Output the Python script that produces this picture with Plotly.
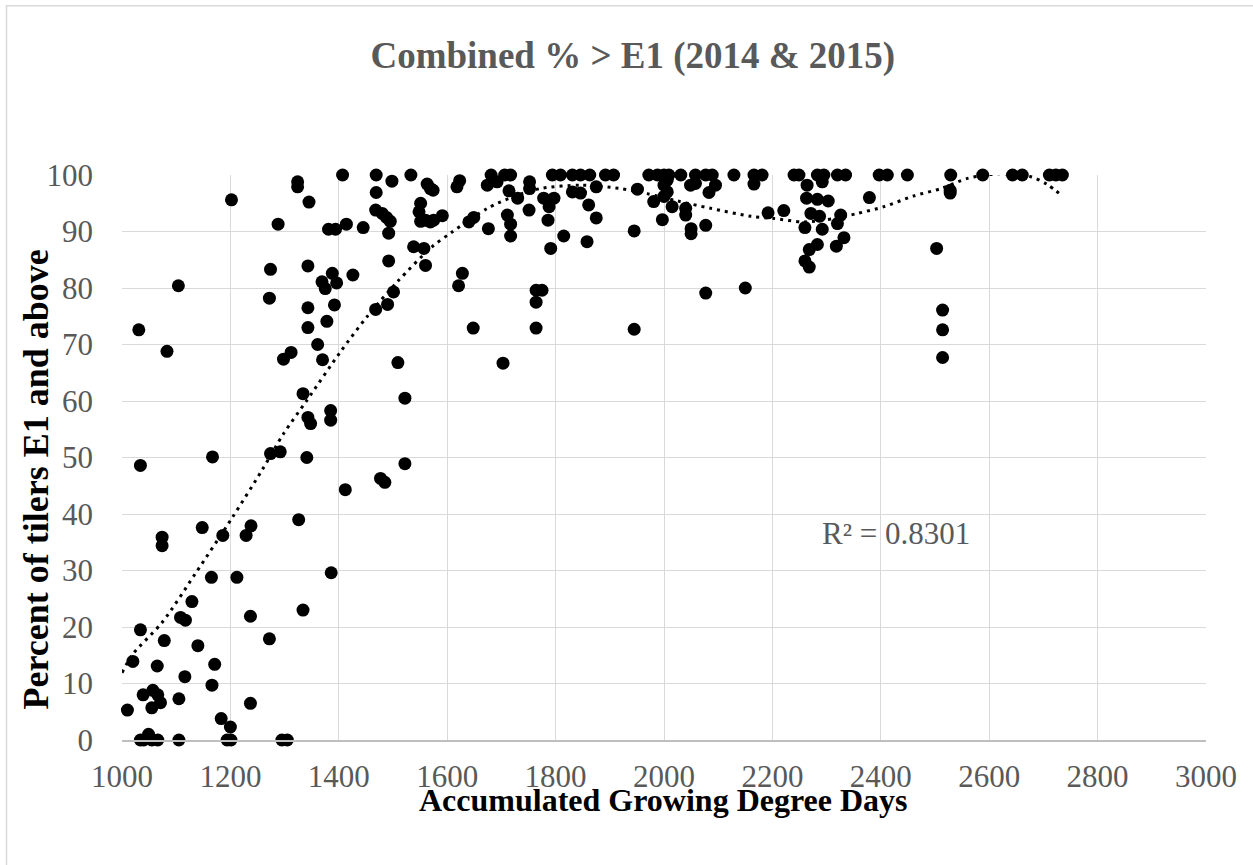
import plotly.graph_objects as go

# Accumulated growing degree days for each sampled plot
gdd = [
    1010, 1020, 1031, 1034, 1034, 1034, 1039, 1040, 1049, 1055, 1055, 1057, 1065, 1066, 1066,
    1071, 1074, 1074, 1078, 1083, 1104, 1105, 1105, 1108, 1116, 1117, 1129, 1140, 1148, 1165,
    1166, 1167, 1171, 1183, 1186, 1194, 1200, 1201, 1202, 1212, 1229, 1237, 1237, 1238, 1272,
    1272, 1274, 1274, 1288, 1292, 1295, 1298, 1305, 1312, 1324, 1324, 1326, 1334, 1334, 1341,
    1343, 1343, 1343, 1343, 1345, 1348, 1361, 1369, 1370, 1375, 1378, 1381, 1385, 1385, 1386,
    1388, 1392, 1394, 1396, 1407, 1412, 1414, 1426, 1445, 1468, 1468, 1469, 1469, 1477, 1480,
    1485, 1488, 1490, 1492, 1492, 1495, 1498, 1501, 1509, 1522, 1522, 1533, 1538, 1548, 1551,
    1551, 1557, 1560, 1560, 1563, 1569, 1569, 1574, 1575, 1591, 1618, 1621, 1623, 1628, 1640,
    1648, 1649, 1674, 1676, 1681, 1692, 1703, 1706, 1711, 1714, 1717, 1717, 1717, 1730, 1751,
    1752, 1752, 1764, 1764, 1764, 1775, 1778, 1786, 1788, 1791, 1794, 1797, 1809, 1815, 1831,
    1831, 1846, 1846, 1858, 1861, 1863, 1875, 1875, 1892, 1907, 1945, 1945, 1951, 1972, 1981,
    1988, 1997, 2000, 2000, 2000, 2006, 2006, 2009, 2015, 2031, 2040, 2040, 2049, 2050, 2050,
    2058, 2058, 2077, 2077, 2077, 2083, 2089, 2095, 2129, 2150, 2166, 2166, 2181, 2192, 2221,
    2240, 2249, 2260, 2260, 2263, 2264, 2268, 2268, 2271, 2283, 2283, 2283, 2287, 2292, 2292,
    2295, 2303, 2318, 2320, 2320, 2326, 2332, 2335, 2379, 2397, 2412, 2449, 2503, 2514, 2514,
    2514, 2528, 2528, 2529, 2588, 2643, 2661, 2711, 2723, 2735,
]

# Percent of tillers at E1 and above for the same plots
pct_e1 = [
    5.3, 13.9, 72.6, 48.6, 19.5, 0.0, 8.0, 0.0, 1.0, 0.0, 5.7, 8.8, 13.1, 8.0, 0.0,
    6.6, 35.9, 34.4, 17.6, 68.8, 80.4, 7.3, 0.0, 21.7, 11.2, 21.2, 24.5, 16.7, 37.6, 28.8,
    9.7, 50.1, 13.4, 3.8, 36.2, 0.0, 2.3, 0.0, 95.6, 28.8, 36.2, 21.9, 6.5, 37.9, 17.9,
    78.2, 83.3, 50.7, 91.3, 51.0, 0.0, 67.4, 0.0, 68.6, 98.8, 97.9, 39.0, 61.3, 23.0, 50.0,
    83.9, 76.5, 73.0, 57.1, 95.2, 56.0, 70.0, 81.1, 67.3, 79.9, 74.1, 90.4, 58.3, 56.6, 29.6,
    82.6, 77.0, 90.4, 80.9, 100.0, 44.3, 91.3, 82.3, 90.7, 93.8, 76.2, 100.0, 96.9, 46.3, 93.2,
    45.6, 92.5, 77.1, 89.7, 84.8, 91.8, 98.9, 79.3, 66.8, 60.5, 48.9, 100.0, 87.3, 93.5, 95.0,
    91.8, 87.0, 92.0, 84.0, 98.4, 97.6, 91.7, 97.3, 92.0, 92.8, 97.9, 80.4, 99.0, 82.6, 91.7,
    72.9, 92.5, 98.2, 90.5, 100.0, 98.8, 66.7, 100.0, 92.9, 97.2, 100.0, 91.3, 89.2, 95.9, 93.8,
    98.8, 97.6, 79.6, 77.5, 72.9, 79.6, 95.9, 92.0, 94.4, 87.0, 100.0, 95.9, 100.0, 89.2, 100.0,
    97.0, 100.0, 96.8, 88.2, 94.7, 100.0, 97.9, 92.4, 100.0, 100.0, 90.1, 72.7, 97.5, 100.0, 95.3,
    100.0, 92.1, 100.0, 96.2, 98.2, 97.0, 99.1, 100.0, 94.4, 100.0, 94.1, 92.9, 98.2, 90.5, 89.6,
    100.0, 98.5, 100.0, 91.1, 79.1, 96.9, 100.0, 98.2, 100.0, 80.0, 100.0, 98.4, 100.0, 93.3, 93.7,
    100.0, 100.0, 90.7, 84.8, 95.9, 98.2, 86.8, 83.7, 93.2, 100.0, 95.7, 87.7, 92.7, 98.8, 90.4,
    100.0, 95.4, 87.4, 100.0, 91.4, 92.9, 88.9, 100.0, 96.0, 100.0, 100.0, 100.0, 87.0, 76.1, 72.6,
    67.7, 97.3, 96.8, 100.0, 100.0, 100.0, 100.0, 100.0, 100.0, 100.0,
]

# Polynomial trendline (R² = 0.8301), sampled along its course
trend_x = [1000, 1020, 1074, 1135, 1203, 1258, 1298, 1341, 1403, 1452, 1508, 1572, 1609,
           1674, 1723, 1772, 1846, 1920, 1969, 2025, 2086, 2160, 2203, 2258, 2314, 2357,
           2406, 2461, 2511, 2560, 2615, 2677, 2706, 2735]
trend_y = [11.9, 15.2, 20.8, 29.4, 39.3, 47.7, 54.2, 60.1, 68.7, 74.9, 81.1, 87.3, 89.9,
           94.1, 96.2, 97.6, 98.2, 97.6, 96.7, 95.4, 94.1, 92.7, 92.3, 91.7, 92.3, 93.2,
           94.4, 96.3, 97.6, 99.4, 100.2, 99.7, 98.4, 96.3]

x_ticks = list(range(1000, 3001, 200))
y_ticks = list(range(0, 101, 10))

TITLE = "Combined % > E1 (2014 & 2015)"
X_TITLE = "Accumulated Growing Degree Days"
Y_TITLE = "Percent of tilers E1 and above"
R2_LABEL = "R² = 0.8301"

FONT = "Liberation Serif, Times New Roman, serif"
GREY_TEXT = "#595959"
GRID = "#d9d9d9"

fig = go.Figure()

fig.add_trace(go.Scatter(
    x=trend_x, y=trend_y, mode="lines",
    line=dict(color="black", width=3, dash="3px,5px", shape="spline", smoothing=0.8),
    hoverinfo="skip", showlegend=False, cliponaxis=False,
))

fig.add_trace(go.Scatter(
    x=gdd, y=pct_e1, mode="markers",
    marker=dict(color="black", size=13, line=dict(width=0)),
    showlegend=False, cliponaxis=False,
))

fig.update_layout(
    width=1253, height=865,
    margin=dict(l=122, r=47, t=175, b=125),
    paper_bgcolor="white", plot_bgcolor="white",
    font=dict(family=FONT, color=GREY_TEXT, size=31),
    title=dict(
        text=f"<b>{TITLE}</b>", x=0.505, xanchor="center",
        y=1 - 55 / 865, yanchor="middle",
        font=dict(family=FONT, size=37, color=GREY_TEXT),
    ),
    xaxis=dict(
        range=[1000, 3000], tickvals=x_ticks, ticktext=[str(v) for v in x_ticks],
        showgrid=True, gridcolor=GRID, gridwidth=1.3,
        showline=True, linecolor="#bfbfbf", linewidth=1.5,
        zeroline=False, ticks="", ticklabelstandoff=8,
        tickfont=dict(family=FONT, size=31, color=GREY_TEXT),
    ),
    yaxis=dict(
        range=[0, 100], tickvals=y_ticks, ticktext=[str(v) for v in y_ticks],
        showgrid=True, gridcolor=GRID, gridwidth=1.3,
        showline=False, zeroline=False, ticks="", ticklabelstandoff=28,
        tickfont=dict(family=FONT, size=31, color=GREY_TEXT),
    ),
    annotations=[
        dict(text=f"<b>{X_TITLE}</b>", xref="paper", yref="paper",
             x=(663 - 122) / 1084, y=-(800 - 740) / 564, xanchor="center", yanchor="middle",
             showarrow=False, font=dict(family=FONT, size=32, color="black")),
        dict(text=f"<b>{Y_TITLE}</b>", xref="paper", yref="paper", textangle=-90,
             x=-(122 - 36) / 1084, y=(740 - 480) / 564, xanchor="center", yanchor="middle",
             showarrow=False, font=dict(family=FONT, size=36, color="black")),
        dict(text=R2_LABEL, xref="x", yref="y", x=2568, y=36.5,
             xanchor="right", yanchor="middle", showarrow=False,
             font=dict(family=FONT, size=31, color=GREY_TEXT)),
    ],
    shapes=[
        dict(type="rect", xref="paper", yref="paper",
             x0=-(122 - 6.5) / 1084, x1=(1262 - 122) / 1084,
             y0=-(875 - 740) / 564, y1=(740 - 7) / 564,
             line=dict(color=GRID, width=1.5), fillcolor="rgba(0,0,0,0)", layer="below"),
    ],
)

fig.write_html("out.html")
